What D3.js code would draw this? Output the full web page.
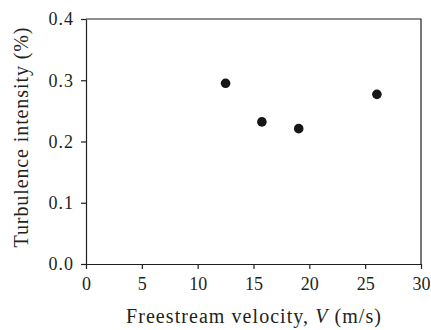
<!DOCTYPE html>
<html>
<head>
<meta charset="utf-8">
<script src="https://cdn.jsdelivr.net/npm/d3@7"></script>
<style>
  body { margin: 0; background: #fff; }
</style>
</head>
<body>
<div id="chart"></div>
<script>
// freestream velocity (m/s) and turbulence intensity (%)
const velocity = [12.5, 15.75, 19.05, 26.05];
const intensity = [0.295, 0.232, 0.221, 0.277];
const xTicks = [0, 5, 10, 15, 20, 25, 30];
const yTicks = [0.0, 0.1, 0.2, 0.3, 0.4];

const W = 431, H = 330;
const margin = {top: 19, right: 10, bottom: 66, left: 86};
const width = W - margin.left - margin.right;
const height = H - margin.top - margin.bottom;
const serif = "'Liberation Serif', 'Times New Roman', serif";
const ink = "#231f20";

const svg = d3.select("#chart").append("svg")
	.attr("width", W)
	.attr("height", H);

const g = svg.append("g")
	.attr("transform", `translate(${margin.left}, ${margin.top})`);

const x = d3.scaleLinear().domain([0, 30]).range([0, width]);
const y = d3.scaleLinear().domain([0, 0.4]).range([height, 0]);

// frame (top and right sides without ticks)
g.append("path")
	.attr("d", `M0,0H${width}V${height}`)
	.attr("fill", "none")
	.attr("stroke", ink)
	.attr("stroke-width", 1.2);

g.append("g")
	.attr("class", "axis x-axis")
	.attr("transform", `translate(0, ${height})`)
	.call(d3.axisBottom(x).tickValues(xTicks).tickSize(5).tickSizeOuter(0).tickPadding(8));

g.append("g")
	.attr("class", "axis y-axis")
	.call(d3.axisLeft(y).tickValues(yTicks).tickSize(5).tickSizeOuter(0).tickPadding(7)
		.tickFormat(d3.format(".1f")));

g.selectAll(".axis path, .axis line")
	.attr("stroke", ink)
	.attr("stroke-width", 1.2);

g.selectAll(".axis text")
	.style("font-family", serif)
	.style("font-size", "18px")
	.attr("fill", ink);

g.selectAll(".y-axis text")
	.style("letter-spacing", "1px");

// axis titles
const xTitle = g.append("text")
	.attr("x", width / 2)
	.attr("y", height + 59)
	.attr("text-anchor", "middle")
	.attr("textLength", 255)
	.attr("lengthAdjust", "spacing")
	.attr("fill", ink)
	.style("font-family", serif)
	.style("font-size", "20px");
xTitle.append("tspan").text("Freestream velocity, ");
xTitle.append("tspan").style("font-style", "italic").text("V");
xTitle.append("tspan").text(" (m/s)");

g.append("text")
	.attr("transform", `translate(-58, ${height / 2 - 4}) rotate(-90)`)
	.attr("text-anchor", "middle")
	.attr("textLength", 220)
	.attr("lengthAdjust", "spacing")
	.attr("fill", ink)
	.style("font-family", serif)
	.style("font-size", "20px")
	.text("Turbulence intensity (%)");

// data points
g.selectAll(".dot")
	.data(velocity)
	.enter().append("circle")
	.attr("class", "dot")
	.attr("cx", d => x(d))
	.attr("cy", (d, i) => y(intensity[i]))
	.attr("r", 4.8)
	.attr("fill", "#161616");
</script>
</body>
</html>
